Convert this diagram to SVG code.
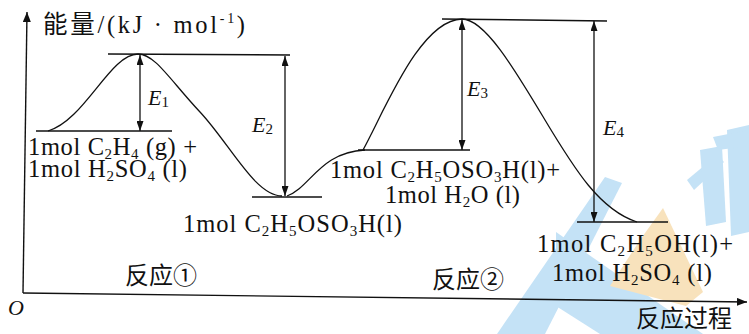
<svg xmlns="http://www.w3.org/2000/svg" width="749" height="334" viewBox="0 0 749 334">
<style>
.ln{stroke:#111;stroke-width:1.4;fill:none}
.cv{stroke:#111;stroke-width:1.3;fill:none}
.ar{stroke:#111;stroke-width:1.3;fill:none;marker-start:url(#ah);marker-end:url(#ah)}
.t{font-family:"Liberation Serif","Noto Sans CJK SC",serif;font-size:24.5px;fill:#111}
.cn{font-family:"Noto Sans CJK SC","Liberation Serif",sans-serif;font-size:24px;fill:#111}
.e{font-family:"Liberation Serif",serif;font-size:22px;font-style:italic;fill:#111}
.s{font-size:15px;font-style:normal}
.wb{fill:#c4e2f6}
.wo{fill:#f8e2bc}
</style>
<defs>
<marker id="ah" viewBox="0 0 10 7" refX="10" refY="3.5" markerWidth="10" markerHeight="7" markerUnits="userSpaceOnUse" orient="auto-start-reverse">
<path d="M0,0 L10,3.5 L0,7 z" fill="#111"/>
</marker>
<marker id="ax" viewBox="0 0 10 8" refX="10" refY="4" markerWidth="10" markerHeight="8" markerUnits="userSpaceOnUse" orient="auto">
<path d="M0,0 L10,4 L0,8 z" fill="#111"/>
</marker>
</defs>
<g id="watermark">
<polygon class="wb" points="605,177 622,183 545,334 497,334"/>
<polygon class="wb" points="556,232 703,334 600,334 556,306"/>
<polygon class="wo" points="663,208 703,292 686,306 610,286 640,240"/>
<polygon class="wb" points="687,180 717,155 724,162 694,190"/>
<polygon class="wb" points="700,150 722,146 726,222 706,226"/>
<polygon class="wb" points="727,130 749,125 749,232 731,236"/>
<polygon class="wb" points="713,137 749,130 749,146 718,150"/>
</g>
<g id="axes">
<line class="ln" x1="23" y1="293" x2="27" y2="12" marker-end="url(#ax)"/>
<line class="ln" x1="23" y1="293" x2="747" y2="302" marker-end="url(#ax)"/>
<text class="t" x="43" y="33" textLength="202">能量/(kJ · mol<tspan font-size="14" dy="-10">-1</tspan><tspan dy="10">)</tspan></text>
<text class="e" x="8" y="315">O</text>
<text class="cn" x="636" y="327">反应过程</text>
</g>
<g id="connectors">
<path class="cv" d="M48,131 C85,120 110,54 138,54 C155,54 170,80 200,112 S255,196 282,196"/>
<path class="cv" d="M287,196 C310,188 320,152 365,150"/>
<path class="cv" d="M363,150 C385,110 420,20 462,19 C485,19 515,70 545,120 S600,210 637,222"/>
<line class="ar" x1="140" y1="55" x2="140" y2="131"/>
<line class="ar" x1="285" y1="56" x2="285" y2="196"/>
<line class="ar" x1="462" y1="20" x2="462" y2="150"/>
<line class="ar" x1="594" y1="21" x2="594" y2="222"/>
</g>
<g id="level-reactants">
<line class="ln" x1="36" y1="131" x2="172" y2="131"/>
<text class="t" x="28" y="155" textLength="169">1mol C<tspan class="s" dy="4">2</tspan><tspan dy="-4">H</tspan><tspan class="s" dy="4">4</tspan><tspan dy="-4"> (g) +</tspan></text>
<text class="t" x="28" y="177" textLength="159">1mol H<tspan class="s" dy="4">2</tspan><tspan dy="-4">SO</tspan><tspan class="s" dy="4">4</tspan><tspan dy="-4"> (l)</tspan></text>
</g>
<g id="level-ts1">
<line class="ln" x1="108" y1="54" x2="290" y2="55"/>
<text class="e" x="148" y="105">E<tspan class="s" dy="2">1</tspan></text>
<text class="e" x="252" y="132">E<tspan class="s" dy="2">2</tspan></text>
</g>
<g id="level-intermediate">
<line class="ln" x1="252" y1="197" x2="322" y2="197"/>
<text class="t" x="183" y="232" textLength="219">1mol C<tspan class="s" dy="4">2</tspan><tspan dy="-4">H</tspan><tspan class="s" dy="4">5</tspan><tspan dy="-4">OSO</tspan><tspan class="s" dy="4">3</tspan><tspan dy="-4">H(l)</tspan></text>
</g>
<g id="level-2">
<line class="ln" x1="358" y1="150" x2="470" y2="150"/>
<text class="t" x="330" y="178" textLength="230">1mol C<tspan class="s" dy="4">2</tspan><tspan dy="-4">H</tspan><tspan class="s" dy="4">5</tspan><tspan dy="-4">OSO</tspan><tspan class="s" dy="4">3</tspan><tspan dy="-4">H(l)+</tspan></text>
<text class="t" x="385" y="203" textLength="135">1mol H<tspan class="s" dy="4">2</tspan><tspan dy="-4">O (l)</tspan></text>
</g>
<g id="level-ts2">
<line class="ln" x1="442" y1="19" x2="607" y2="21"/>
<text class="e" x="467" y="96">E<tspan class="s" dy="2">3</tspan></text>
<text class="e" x="603" y="135">E<tspan class="s" dy="2">4</tspan></text>
</g>
<g id="level-products">
<line class="ln" x1="577" y1="222" x2="668" y2="222"/>
<text class="t" x="537" y="252" textLength="196">1mol C<tspan class="s" dy="4">2</tspan><tspan dy="-4">H</tspan><tspan class="s" dy="4">5</tspan><tspan dy="-4">OH(l)+</tspan></text>
<text class="t" x="552" y="281" textLength="160">1mol H<tspan class="s" dy="4">2</tspan><tspan dy="-4">SO</tspan><tspan class="s" dy="4">4</tspan><tspan dy="-4"> (l)</tspan></text>
</g>
<g id="labels">
<text class="cn" x="125" y="284">反应①</text>
<text class="cn" x="432" y="288">反应②</text>
</g>
</svg>
